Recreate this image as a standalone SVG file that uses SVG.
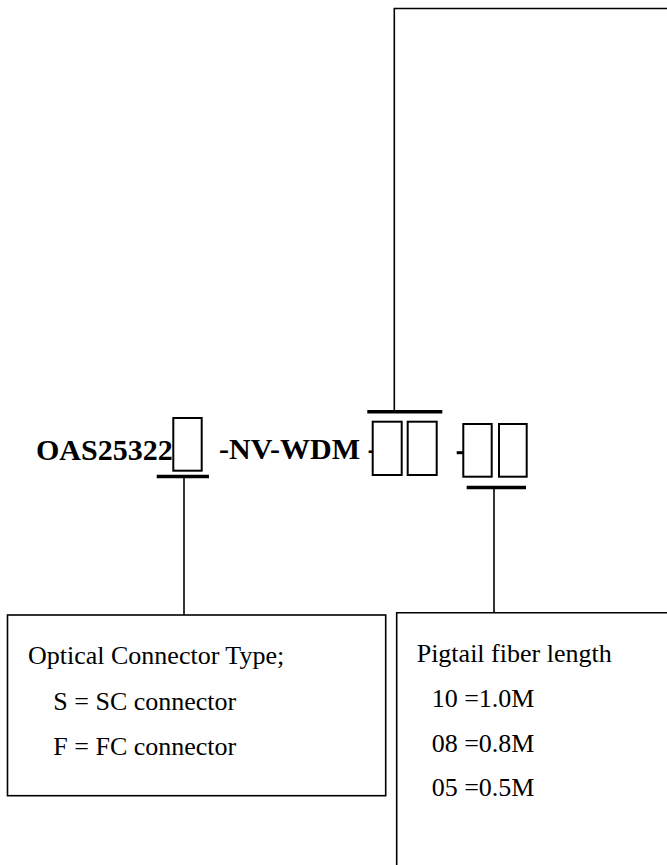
<svg xmlns="http://www.w3.org/2000/svg" width="667" height="865" viewBox="0 0 667 865">
<style>
.code{font-family:"Liberation Serif","Times New Roman",serif;font-weight:bold;font-size:30px;fill:#000}
.lbl{font-family:"Liberation Serif","Times New Roman",serif;font-size:26px;fill:#000}
.slot{fill:#fff;stroke:#000;stroke-width:2}
.bar{stroke:#000;stroke-width:3.5;fill:none}
.frame{fill:#fff;stroke:#000;stroke-width:1.6}
.open{fill:none;stroke:#000;stroke-width:1.6}
.wire{stroke:#000;stroke-width:1.6;fill:none}
</style>
<rect width="667" height="865" fill="#fff"/>
<g id="connectors">
<line class="wire" x1="184" y1="477" x2="184" y2="615"/>
<line class="wire" x1="494" y1="488" x2="494" y2="613"/>
</g>
<g id="top-box">
<path class="open" d="M394.3,411.7 V8.5 H670"/>
</g>
<g id="code">
<text class="code" x="36" y="460">OAS25322</text>
<rect class="slot" x="173.3" y="418" width="28.4" height="52.7"/>
<line class="bar" x1="156.7" y1="476.5" x2="209" y2="476.5"/>
<text class="code" x="219" y="459">-NV-WDM -</text>
<line class="bar" x1="367.3" y1="411.7" x2="442.3" y2="411.7"/>
<rect class="slot" x="372.7" y="421.7" width="29" height="53.3"/>
<rect class="slot" x="407.7" y="421.7" width="29" height="53.3"/>
<line x1="456.7" y1="452.7" x2="463" y2="452.7" stroke="#000" stroke-width="3"/>
<rect class="slot" x="463.3" y="424" width="28.4" height="52.7"/>
<rect class="slot" x="499" y="424" width="27.7" height="52.7"/>
<line class="bar" x1="466.7" y1="487.5" x2="526" y2="487.5"/>
</g>
<g id="connector-type">
<rect class="frame" x="7.5" y="615" width="378.2" height="180.7"/>
<text class="lbl" x="28" y="664">Optical Connector Type;</text>
<text class="lbl" x="53.3" y="710">S = SC connector</text>
<text class="lbl" x="53.3" y="755">F = FC connector</text>
</g>
<g id="fiber-length">
<path class="open" d="M396.7,870 V612.7 H670"/>
<text class="lbl" x="416.7" y="661.7">Pigtail fiber length</text>
<text class="lbl" x="431.7" y="706.7">10 =1.0M</text>
<text class="lbl" x="431.7" y="751.7">08 =0.8M</text>
<text class="lbl" x="431.7" y="796">05 =0.5M</text>
</g>
</svg>
